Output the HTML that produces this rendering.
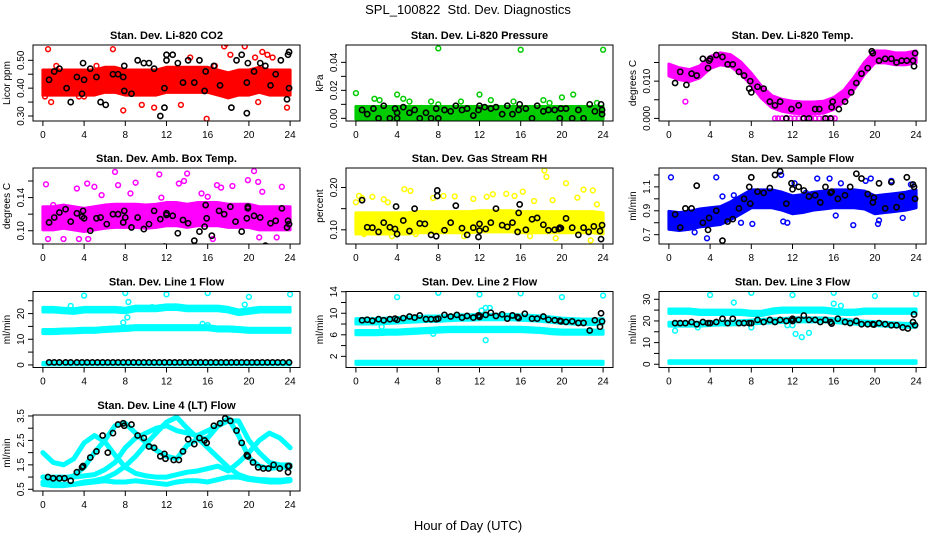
<!DOCTYPE html>
<html><head><meta charset="utf-8"><style>
body{margin:0;background:#fff;}
svg{display:block;font-family:"Liberation Sans",sans-serif;}
</style></head><body>
<svg id="chart" width="936" height="540" viewBox="0 0 936 540">
<text x="468" y="14" text-anchor="middle" font-size="13" style="white-space:pre">SPL_100822&#160; Std. Dev. Diagnostics</text>
<text x="468" y="530" text-anchor="middle" font-size="13">Hour of Day (UTC)</text>
</svg>
<script>
const hours = [0,1,2,3,4,5,6,7,8,9,10,11,12,13,14,15,16,17,18,19,20,21,22,23,24];
const xTicks = [0,4,8,12,16,20,24];

const p1Band = [0.42,0.42,0.42,0.42,0.42,0.42,0.43,0.43,0.42,0.42,0.42,0.42,0.43,0.43,0.43,0.43,0.43,0.42,0.41,0.42,0.42,0.43,0.42,0.42,0.42];
const p1OutX = [0.2,0.5,1.3,3.5,4,6.8,7.8,10.8,15.9,17.6,17.8,18.2,19.6,20.6,21.3,21.8,22.3,23.7,0.8,5.2,9.6,13.4,14.3,16.7,20.9];
const p1OutY = [0.37,0.54,0.48,0.37,0.37,0.54,0.32,0.33,0.29,0.55,0.56,0.52,0.55,0.51,0.53,0.52,0.51,0.33,0.35,0.48,0.34,0.34,0.51,0.48,0.35];
const p1BlkX = [0.6,1.1,1.6,2.3,2.7,3.3,3.8,3.9,4,4.6,5.2,5.6,6.1,6.8,7.3,7.8,7.9,7.9,8.6,9.2,9.8,10.3,10.8,11.4,11.8,11.8,12,12,12.6,13.1,13.6,14.1,14.7,15.2,15.7,15.8,16.6,17.2,18.3,18.8,19.3,19.8,19.8,19.9,20.5,21.1,21.6,22.1,22.6,23.1,23.7,23.8,23.9,23.9];
const p1BlkY = [0.43,0.46,0.47,0.40,0.35,0.44,0.38,0.49,0.43,0.47,0.44,0.35,0.34,0.45,0.45,0.44,0.39,0.48,0.38,0.50,0.49,0.49,0.47,0.30,0.33,0.40,0.50,0.52,0.52,0.49,0.42,0.50,0.42,0.50,0.39,0.46,0.48,0.41,0.33,0.50,0.52,0.31,0.42,0.49,0.46,0.49,0.48,0.41,0.45,0.50,0.36,0.52,0.40,0.53];

const p2Band = [0.004,0.004,0.004,0.004,0.004,0.004,0.004,0.004,0.004,0.004,0.004,0.004,0.004,0.004,0.004,0.004,0.004,0.004,0.004,0.004,0.004,0.004,0.004,0.004,0.004];
const p2OutX = [0,1.8,2.3,4,4.6,5.2,7.3,8,8,10.2,12,13.1,15.3,16,18.2,18.8,20,21.1,23.4,24];
const p2OutY = [0.018,0.014,0.013,0.017,0.014,0.012,0.012,0.050,0.010,0.012,0.017,0.013,0.012,0.049,0.013,0.011,0.015,0.017,0.011,0.049];
const p2BlkX = [0.6,1.1,1.7,2.2,2.7,3.3,3.8,4,4,4.6,5.2,5.7,6.2,6.8,7.3,7.8,8,8.6,9.2,9.7,10.3,10.8,11.4,11.9,12,12.5,13.1,13.6,14.2,14.7,15.2,15.8,15.9,16.5,17.1,17.6,18.2,18.7,19.3,19.8,19.9,20.4,21,21.6,22.1,22.7,23.2,23.8,23.9,23.9];
const p2BlkY = [0.006,0.003,0.007,0.000,0.009,0.000,0.007,0.004,0.000,0.008,0.004,0.006,0.000,0.004,0.000,0.007,0.000,0.006,0.005,0.009,0.006,0.007,0.002,0.006,0.009,0.008,0.007,0.008,0.003,0.009,0.003,0.006,0.010,0.007,0.000,0.009,0.005,0.006,0.006,0.000,0.007,0.007,0.000,0.006,0.000,0.010,0.005,0.010,0.006,0.003];

const p3Band = [0.013,0.012,0.0115,0.0125,0.015,0.016,0.0155,0.0135,0.0105,0.007,0.0045,0.0035,0.003,0.0028,0.0028,0.003,0.004,0.006,0.0095,0.0135,0.0165,0.0165,0.016,0.016,0.0165];
const p3OutX = [10.3,10.6,11,11.4,11.8,12.2,12.6,13,13.4,13.8,14.2,14.6,15,15.4,15.8,16.1,1.6];
const p3OutY = [0,0,0,0,0,0,0,0,0,0,0,0,0,0,0,0,0.0045];
const p3BlkX = [0.6,1.1,1.7,2.2,2.7,3.3,3.8,3.9,4,4.6,5.2,5.7,6.2,6.8,7.3,7.8,7.9,8,8.6,9.2,9.8,10.3,10.8,11.4,11.9,12.6,13.1,13.6,14.2,14.6,15.2,15.7,15.8,15.9,16.5,17.1,17.7,18.2,18.7,19.3,19.7,19.8,20.4,21,21.6,22.1,22.6,23.1,23.7,23.8,23.9];
const p3BlkY = [0.0095,0.0125,0.009,0.012,0.0115,0.016,0.0135,0.0155,0.016,0.017,0.0165,0.0145,0.0145,0.0125,0.0115,0.008,0.010,0.007,0.0085,0.008,0.0045,0.0035,0.0045,0,0.0025,0.0035,0,0,0.0025,0.0025,0,0,0.003,0.0045,0.0025,0.0045,0.007,0.0095,0.012,0.0135,0.018,0.0175,0.0155,0.016,0.016,0.015,0.0155,0.0155,0.0155,0.014,0.0175];

const p4Band = [0.115,0.115,0.117,0.115,0.113,0.115,0.117,0.118,0.118,0.118,0.117,0.118,0.12,0.12,0.118,0.12,0.12,0.12,0.118,0.118,0.118,0.115,0.115,0.115,0.115];
const p4OutX = [0.3,0.5,1,3.3,4.3,5,5.7,7,7.3,8.5,9,11.3,11.5,13.2,13.7,14,15.4,16,16.9,17.3,18.4,19.9,20.5,20.9,21.3,23.2,2,3.5,4.4,16.5,21,22.7];
const p4OutY = [0.156,0.09,0.131,0.151,0.157,0.153,0.143,0.171,0.155,0.145,0.158,0.168,0.14,0.157,0.16,0.169,0.145,0.141,0.155,0.152,0.154,0.161,0.172,0.159,0.147,0.153,0.09,0.09,0.09,0.09,0.092,0.092];
const p4BlkX = [0.6,1.1,1.6,2.2,2.7,3.3,3.8,3.9,4,4.6,5.2,5.6,6.2,6.8,7.3,7.8,7.9,8,8.6,9.2,9.8,10.3,10.8,11.4,11.8,12,12,12.6,13.1,13.6,14.1,14.7,15.2,15.7,15.8,15.9,16.4,17.1,17.6,18.2,18.7,19.3,19.8,19.9,19.9,20.5,21.1,21.6,22.1,22.6,23.2,23.7,23.8,23.9];
const p4BlkY = [0.11,0.116,0.122,0.126,0.111,0.121,0.117,0.124,0.115,0.1,0.115,0.116,0.108,0.12,0.12,0.11,0.124,0.116,0.104,0.116,0.102,0.108,0.124,0.114,0.081,0.119,0.121,0.118,0.097,0.113,0.109,0.088,0.099,0.105,0.131,0.115,0.094,0.124,0.12,0.129,0.111,0.099,0.115,0.127,0.129,0.118,0.116,0.082,0.109,0.112,0.127,0.104,0.112,0.108];

const p5Band = [0.115,0.115,0.115,0.115,0.115,0.115,0.118,0.118,0.118,0.118,0.118,0.118,0.12,0.12,0.12,0.12,0.118,0.118,0.118,0.118,0.118,0.118,0.118,0.118,0.115];
const p5OutX = [0,0.3,0.6,1.6,2.7,3.1,4.7,5.3,7.5,8.5,9.6,11.4,12.7,13.3,14.6,15.4,16.2,17.3,18.3,18.5,19.1,20.4,21.5,22.1,23,23.4,0.8,3.5,5.8,10.5,16.9,19.4,22.8];
const p5OutY = [0.165,0.18,0.175,0.178,0.172,0.165,0.196,0.192,0.175,0.18,0.179,0.173,0.178,0.184,0.185,0.18,0.19,0.168,0.24,0.225,0.17,0.21,0.176,0.195,0.193,0.16,0.09,0.085,0.09,0.085,0.085,0.08,0.075];
const p5BlkX = [0.6,1.1,1.6,2.2,2.7,3.3,3.8,3.9,4,4.6,5.2,5.7,6.2,6.7,7.3,7.8,7.9,7.9,8.6,9.2,9.7,10.3,10.8,11.4,11.9,12,12,12.6,13.1,13.6,14.2,14.7,15.2,15.7,15.8,15.9,16.5,17.1,17.6,18.2,18.7,19.3,19.7,19.8,19.9,20.4,21,21.6,22.1,22.6,23.1,23.7,23.8,23.9];
const p5BlkY = [0.17,0.106,0.105,0.095,0.117,0.106,0.102,0.155,0.09,0.122,0.097,0.15,0.115,0.114,0.088,0.085,0.193,0.18,0.099,0.117,0.157,0.104,0.088,0.105,0.083,0.114,0.098,0.102,0.117,0.15,0.111,0.107,0.117,0.095,0.14,0.16,0.1,0.125,0.128,0.112,0.099,0.1,0.102,0.105,0.104,0.127,0.105,0.088,0.105,0.095,0.108,0.097,0.078,0.111];

const p6Band = [0.82,0.81,0.82,0.84,0.85,0.86,0.9,0.95,1.0,1.0,1.0,0.98,0.95,0.96,0.98,0.99,1.0,1.0,1.0,0.99,0.95,0.96,0.97,0.98,1.0];
const p6OutX = [0.2,3.7,4.6,5.2,6.3,8.1,9.5,10.9,11.5,12.2,13.3,14.4,15.6,16.7,17.9,19.1,19.6,20.3,21.6,22.7,23.5,2.5,7,11.1,16.2,20.4];
const p6OutY = [1.18,0.67,1.18,1.02,1.03,0.79,1.06,1.2,0.8,1.13,1.05,1.17,1.17,1.13,0.78,1.15,1.17,0.79,1.15,0.84,1.12,0.72,0.8,0.81,0.86,0.82];
const p6BlkX = [0.6,1.1,1.6,2.2,2.7,3.3,3.8,3.9,4.6,5.2,5.7,6.2,6.8,7.3,7.8,7.9,8,8.6,9.2,9.8,10.3,10.8,11.4,11.9,12,12.6,13.1,13.6,14.2,14.7,15.2,15.7,15.8,16.4,17.1,17.6,18.2,18.7,19.3,19.8,19.9,20.4,21,21.6,22.1,22.6,23.1,23.7,23.8,23.9];
const p6BlkY = [0.87,0.76,0.92,0.92,1.11,0.8,0.74,0.84,0.9,0.65,0.81,0.83,0.92,1.0,1.1,0.96,1.18,1.06,1.05,1.09,1.2,1.23,0.96,1.13,1.08,1.1,1.07,1.02,1.03,0.97,1.1,1.05,1.06,1.0,1.03,1.1,1.21,1.17,1.04,0.97,1.01,1.13,0.92,1.14,0.93,1.02,1.18,1.12,1.1,1.0];

const p7BandA = [21.5,21.5,21.2,21,21.5,21.5,21.5,21.5,21.2,22,22,22,22.5,22.5,22,22,22,22,21.5,20.5,21,21.5,21.5,21.5,21.5];
const p7BandB = [13,13,13.2,13.3,13.5,13.5,13.8,14,14.2,14.5,14.5,14.5,14.5,14.5,14.5,14.5,14.5,14,14,13.8,13.5,13.5,13.5,13.5,13.5];
const p7BandC = [0.5,0.5,0.5,0.5,0.5,0.5,0.5,0.5,0.5,0.5,0.5,0.5,0.5,0.5,0.5,0.5,0.5,0.5,0.5,0.5,0.5,0.5,0.5,0.5,0.5];
const p7OutX = [4,8,12,16,20,24,8.2,8.3,7.8,15.5,16,2.7,10.6,19.6];
const p7OutY = [27,28,27.5,28,26.5,27.5,18.5,24.5,16.5,16,15.5,23,22.5,23.5];
const p7BlkX = [0.6,1.1,1.6,2.2,2.7,3.3,3.8,4.3,4.8,5.3,5.8,6.3,6.8,7.3,7.8,8.3,8.8,9.3,9.8,10.3,10.8,11.3,11.8,12.3,12.8,13.3,13.8,14.3,14.8,15.3,15.8,16.3,16.8,17.3,17.8,18.3,18.8,19.3,19.8,20.3,20.8,21.3,21.8,22.3,22.8,23.3,23.9];
const p7BlkY = [1,1,1,1,1,1,1,1,1,1,1,1,1,1,1,1,1,1,1,1,1,1,1,1,1,1,1,1,1,1,1,1,1,1,1,1,1,1,1,1,1,1,1,1,1,1,1];

const p8BandA = [8.5,8.5,8.5,8.6,8.7,8.8,8.9,9,9,9.1,9.2,9.2,9.3,9.3,9.3,9.3,9.2,9.1,9,8.8,8.6,8.5,8.4,8.4,8.5];
const p8BandB = [6.4,6.4,6.4,6.5,6.5,6.6,6.7,6.8,6.9,7,7,7,7,7,7,7,7,6.9,6.8,6.6,6.5,6.5,6.5,6.5,6.5];
const p8BandC = [0.8,0.8,0.8,0.8,0.8,0.8,0.8,0.8,0.8,0.8,0.8,0.8,0.8,0.8,0.8,0.8,0.8,0.8,0.8,0.8,0.8,0.8,0.8,0.8,0.8];
const p8OutX = [4,8,12,16,20,24,12.2,12.6,13,12.6,7.5,2.5];
const p8OutY = [13,13.8,13.5,13.7,13,13.3,10.5,11,11,5,6.2,7.5];
const p8BlkX = [0.6,1.1,1.6,2.2,2.7,3.3,3.8,4,4.6,5.2,5.7,6.2,6.8,7.3,7.8,8,8.6,9.2,9.8,10.3,10.8,11.4,11.9,12,12,12.6,13.1,13.6,14.2,14.7,15.2,15.7,15.8,16.4,17.1,17.6,18.2,18.7,19.3,19.8,19.9,20.4,21,21.6,22.1,22.7,23.2,23.7,23.8,23.9];
const p8BlkY = [8.7,8.8,8.6,8.9,8.7,8.9,9,8.8,9.1,9.4,9.2,9.6,8.9,8.9,8.9,9.0,9.7,9.4,9.7,9.2,9.5,9.2,9.6,9.3,9.5,9.7,10.1,9.5,9.8,9.0,9.6,9.3,9.1,9.9,9.0,9.0,9.4,8.8,8.7,8.6,8.5,8.4,8.5,8.2,8.2,6.8,8.7,7.5,10,8.5];

const p9BandA = [24.5,24.5,24.5,24,24,24,24,24,23.5,23.5,24.5,25,25,25,25,25,24.5,24,24,24.5,24.5,24.5,24.5,24.5,24.5];
const p9BandB = [18.5,18.5,18.5,18.5,18.8,19,19,19.2,19.5,19.8,20,20.2,20.5,20.5,20.5,20.5,20.2,19.8,19.5,19,18.8,18.5,18.2,18,18];
const p9BandC = [1,1,1,1,1,1,1,1,1,1,1,1,1,1,1,1,1,1,1,1,1,1,1,1,1];
const p9OutX = [4,8,12,16,20,24,0.6,2.8,8,12,12.3,12.9,13.6,6.3,16,16.7,11.5];
const p9OutY = [32,33,32,33,31.5,32.5,15.5,17,17,18,14,12.5,14.5,28.5,28,27,18];
const p9BlkX = [0.6,1.1,1.6,2.2,2.7,3.3,3.8,4,4.6,5.2,5.7,6.2,6.8,7.3,7.8,8,8.6,9.2,9.8,10.3,10.8,11.4,11.9,12,12,12.6,13.1,13.6,14.2,14.7,15.2,15.7,15.8,16.4,17.1,17.6,18.2,18.7,19.3,19.8,19.9,20.4,21,21.6,22.1,22.7,23.2,23.7,23.8,23.9];
const p9BlkY = [19,19,19,19.5,18.5,19.5,19,19,19.5,21,19,21,19,19,19,19,20.5,19.5,20.5,19.5,20.5,20,20.5,21,20,20.5,22.5,20.5,20.5,19.5,20.5,19.5,18.8,21,19.5,19,20,18.5,18.5,18.5,18.3,19,18.5,18,18,17,16.5,19.5,23,18];

const p10C1 = [1.0,0.95,0.95,1.05,1.4,2.0,2.5,3.1,3.2,2.8,2.4,2.1,1.85,1.75,2.3,2.55,2.6,3.1,3.4,2.7,1.8,1.45,1.35,1.4,1.4];
const p10C2 = [2.0,1.6,1.5,1.75,2.4,2.7,2.45,1.9,1.4,1.15,1.05,1.0,1.0,1.1,1.2,1.25,1.35,1.45,1.25,1.6,2.0,2.5,2.8,2.6,2.2];
const p10C3 = [0.7,0.65,0.65,0.7,0.8,0.85,0.95,1.15,1.45,1.85,2.35,2.8,3.25,3.45,3.0,2.6,2.2,1.8,1.4,1.1,0.95,0.9,0.88,0.87,0.9];
const p10C4 = [0.8,0.75,0.7,0.7,0.75,0.8,0.85,0.8,0.8,0.85,0.8,0.75,0.7,0.8,0.85,0.85,0.8,0.9,1.0,1.0,0.9,0.85,0.8,0.8,0.85];
const p10C5 = [1.0,1.0,1.0,1.0,1.05,1.1,1.3,1.6,2.2,2.6,2.8,3.0,3.1,2.9,2.8,2.7,2.9,3.1,3.3,3.3,2.5,2.0,1.6,1.5,1.5];
const p10BlkX = [0.5,1,1.6,2.1,2.7,3.3,3.8,3.9,4.6,5.2,5.8,6.3,6.8,7.3,7.8,7.9,8.6,9.2,9.8,10.3,10.8,11.4,11.8,11.9,12.7,13.2,13.6,14.1,14.7,15.2,15.7,15.9,16.6,17.2,17.7,18.2,18.8,19.3,19.8,19.9,20.4,20.9,21.4,21.9,22.4,23,23.8,23.8,23.9];
const p10BlkY = [1.0,0.95,0.95,0.95,0.85,1.2,1.4,1.45,1.8,2.05,2.7,2.0,2.8,3.15,3.2,3.1,3.15,2.7,2.6,2.25,2.2,1.85,1.95,1.75,1.7,1.7,2.05,2.55,2.35,2.6,2.5,2.4,3.1,3.2,3.4,3.3,2.9,2.4,1.9,1.85,1.6,1.4,1.35,1.35,1.5,1.35,1.45,1.2,1.45];

const NS = 'http://www.w3.org/2000/svg';
const svg = document.getElementById('chart');
const colLeft = [33,346,659], rowTop = [45,168,291.5,415], PW = 267, PH = 76;
function mk(tag, attrs, parent){const e=document.createElementNS(NS,tag);for(const k in attrs)e.setAttribute(k,attrs[k]);(parent||svg).appendChild(e);return e;}

const panels = [
 {t:'Stan. Dev. Li-820 CO2',yl:'Licor ppm',c:'#ff0000',r:0,col:0,y0:0.282,y1:0.555,ticks:[0.30,0.35,0.40,0.45,0.50],labs:['0.30','','0.40','','0.50'],bands:[[p1Band,0.045]],lines:[],ox:p1OutX,oy:p1OutY,bx:p1BlkX,by:p1BlkY},
 {t:'Stan. Dev. Li-820 Pressure',yl:'kPa',c:'#00cc00',r:0,col:1,y0:-0.0019,y1:0.0524,ticks:[0,0.01,0.02,0.03,0.04],labs:['0.00','','0.02','','0.04'],bands:[[p2Band,0.0045]],lines:[],ox:p2OutX,oy:p2OutY,bx:p2BlkX,by:p2BlkY},
 {t:'Stan. Dev. Li-820 Temp.',yl:'degrees C',c:'#ff00ff',r:0,col:2,y0:-0.0007,y1:0.0197,ticks:[0,0.005,0.01,0.015],labs:['0.000','','0.010',''],bands:[[p3Band,0.0016]],lines:[],ox:p3OutX,oy:p3OutY,bx:p3BlkX,by:p3BlkY},
 {t:'Stan. Dev. Amb. Box Temp.',yl:'degrees C',c:'#ff00ff',r:1,col:0,y0:0.084,y1:0.1757,ticks:[0.10,0.12,0.14,0.16],labs:['0.10','','0.14',''],bands:[[p4Band,0.014]],lines:[],ox:p4OutX,oy:p4OutY,bx:p4BlkX,by:p4BlkY},
 {t:'Stan. Dev. Gas Stream RH',yl:'percent',c:'#ffff00',r:1,col:1,y0:0.0665,y1:0.246,ticks:[0.10,0.15,0.20],labs:['0.10','','0.20'],bands:[[p5Band,0.025]],lines:[],ox:p5OutX,oy:p5OutY,bx:p5BlkX,by:p5BlkY},
 {t:'Stan. Dev. Sample Flow',yl:'ml/min',c:'#0000ff',r:1,col:2,y0:0.622,y1:1.258,ticks:[0.7,0.8,0.9,1.0,1.1,1.2],labs:['0.7','','0.9','','1.1',''],bands:[[p6Band,0.075]],lines:[],ox:p6OutX,oy:p6OutY,bx:p6BlkX,by:p6BlkY},
 {t:'Stan. Dev. Line 1 Flow',yl:'ml/min',c:'#00ffff',r:2,col:0,y0:-1,y1:28.6,ticks:[0,5,10,15,20,25],labs:['0','','10','','20',''],bands:[[p7BandA,0.9],[p7BandB,0.8],[p7BandC,0.5]],lines:[],ox:p7OutX,oy:p7OutY,bx:p7BlkX,by:p7BlkY},
 {t:'Stan. Dev. Line 2 Flow',yl:'ml/min',c:'#00ffff',r:2,col:1,y0:-0.07,y1:14.04,ticks:[2,4,6,8,10,12,14],labs:['2','','6','','10','','14'],bands:[[p8BandA,0.5],[p8BandB,0.4],[p8BandC,0.3]],lines:[],ox:p8OutX,oy:p8OutY,bx:p8BlkX,by:p8BlkY},
 {t:'Stan. Dev. Line 3 Flow',yl:'ml/min',c:'#00ffff',r:2,col:2,y0:-1.5,y1:33.6,ticks:[0,5,10,15,20,25,30],labs:['0','','10','','20','','30'],bands:[[p9BandA,1.0],[p9BandB,0.9],[p9BandC,0.6]],lines:[],ox:p9OutX,oy:p9OutY,bx:p9BlkX,by:p9BlkY},
 {t:'Stan. Dev. Line 4 (LT) Flow',yl:'ml/min',c:'#00ffff',r:3,col:0,y0:0.43,y1:3.54,ticks:[0.5,1,1.5,2,2.5,3,3.5],labs:['0.5','','1.5','','2.5','','3.5'],bands:[],lines:[p10C1,p10C2,p10C3,p10C4,p10C5],ox:[],oy:[],bx:p10BlkX,by:p10BlkY}
];

panels.forEach((p,i)=>{
  const L = colLeft[p.col], T = rowTop[p.r], B = T+PH;
  const xs = h => L + 9.9 + h/24*247.2;
  const ys = v => B - (v-p.y0)/(p.y1-p.y0)*PH;
  const g = mk('g',{});
  
  
  const cp = mk('clipPath',{id:'cp'+i},g);
  mk('rect',{x:L,y:T,width:PW,height:PH},cp);
  const plot = mk('g',{'clip-path':'url(#cp'+i+')'},g);
  
  
  p.bands.forEach(([arr,hw])=>{
    let pts=[];
    hours.forEach((h,k)=>pts.push(xs(h)+','+ys(arr[k]+hw)));
    for(let k=hours.length-1;k>=0;k--)pts.push(xs(hours[k])+','+ys(arr[k]-hw));
    const poly = mk('polygon',{points:pts.join(' '),fill:p.c,stroke:p.c,'stroke-width':3,'stroke-linejoin':'round'},plot);
    
    
  });
  p.lines.forEach(arr=>{
    const pl = mk('polyline',{points:hours.map((h,k)=>xs(h)+','+ys(arr[k])).join(' '),fill:'none',stroke:p.c,'stroke-width':5,'stroke-linejoin':'round','stroke-linecap':'round'},plot);
    
    
  });
  p.ox.forEach((x,k)=>{
    const c = mk('circle',{cx:xs(x),cy:ys(p.oy[k]),r:2.4,fill:'none',stroke:p.c,'stroke-width':1.5},plot);
    
    
  });
  p.bx.forEach((x,k)=>{
    const c = mk('circle',{cx:xs(x),cy:ys(p.by[k]),r:2.6,fill:'none',stroke:'#000','stroke-width':1.6},plot);
    
    
  });
  const box = mk('rect',{x:L,y:T,width:PW,height:PH,fill:'none',stroke:'#000','stroke-width':1},g);
  
  
  const tt = mk('text',{x:L+PW/2,y:T-6,'text-anchor':'middle','font-size':11,'font-weight':'bold'},g);
  tt.textContent = p.t;
  
  
  mk('line',{x1:xs(0),x2:xs(24),y1:B,y2:B,stroke:'#000'},g);
  xTicks.forEach(h=>{
    mk('line',{x1:xs(h),x2:xs(h),y1:B,y2:B+5,stroke:'#000'},g);
    const tl = mk('text',{x:xs(h),y:B+17,'text-anchor':'middle','font-size':10},g);
    tl.textContent = h;
    
    
  });
  p.ticks.forEach((v,k)=>{
    mk('line',{x1:L-5,x2:L,y1:ys(v),y2:ys(v),stroke:'#000'},g);
    if(p.labs[k]){
      const yl = mk('text',{x:L-9,y:ys(v),'text-anchor':'middle','font-size':10,transform:'rotate(-90 '+(L-9)+' '+ys(v)+')'},g);
      yl.textContent = p.labs[k];
      
      
    }
  });
  const yt = mk('text',{x:L-23,y:T+PH/2,'text-anchor':'middle','font-size':10,transform:'rotate(-90 '+(L-23)+' '+(T+PH/2)+')'},g);
  yt.textContent = p.yl;
  
  
});
</script>
</body></html>
